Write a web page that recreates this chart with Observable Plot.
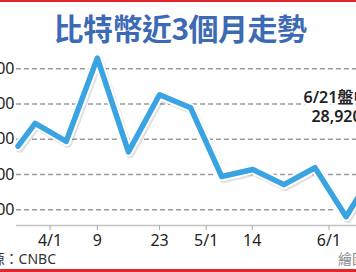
<!DOCTYPE html>
<html>
<head>
<meta charset="utf-8">
<script src="https://cdn.jsdelivr.net/npm/d3@7"></script>
<script src="https://cdn.jsdelivr.net/npm/@observablehq/plot@0.6"></script>
<style>
  html, body { margin: 0; padding: 0; background: #fff; }
  #wrap { position: relative; width: 356px; height: 272px; overflow: hidden; background: #fff;
          font-family: "Noto Sans", "Noto Sans CJK TC", sans-serif; }
  .bar { position: absolute; left: 0; width: 356px; background: #e3262c; }
  #title { position: absolute; left: 2px; width: 356px; top: 12px; text-align: center;
           font: bold 30px/30px "Noto Sans CJK TC", sans-serif; color: #3c6ab4; letter-spacing: -0.5px; }
  #chart { position: absolute; left: -50px; top: 30px; width: 474px; height: 225px; }
  #chart svg { max-width: none !important; }
  #source { position: absolute; right: 300px; top: 252px; font-size: 14px; line-height: 14px; color: #333; white-space: nowrap;
            font-family: "Noto Sans", "Noto Sans CJK TC", sans-serif; }
  #credit { position: absolute; left: 338px; top: 251px; font-size: 14px; line-height: 14px; color: #888; white-space: nowrap;
            font-family: "Noto Sans CJK TC", sans-serif; }
</style>
</head>
<body>
<div id="wrap">
  <div class="bar" style="top:0;height:2px"></div>
  <div id="title">比特幣近3個月走勢</div>
  <div id="chart"></div>
  <div id="source">資料來源：CNBC</div>
  <div id="credit">繪圖：編輯部</div>
  <div class="bar" style="top:269px;height:3px"></div>
</div>
<script>
// Weekly points (position index along the x axis) and Bitcoin price (USD)
const weekIndex = [0.45, 1, 2, 3, 4, 5, 6, 7, 8, 9, 10, 11, 13.2];
const price = [27800, 28450, 27940, 30300, 27640, 29260, 28890, 26940, 27140, 26710, 27190, 25800, 28920];
// X tick positions (in the same index units) and labels
const tickPos = [1.48, 3, 5, 6.5, 7.98, 10.45];
const tickLabels = ["4/1", "9", "23", "5/1", "14", "6/1"];
// Y gridline values
const yTicks = [26000, 27000, 28000, 29000, 30000];
// Annotation for the last point
const noteText = "6/21盤中\n28,920";

const data = weekIndex.map((x, i) => ({x, y: price[i]}));
const last = data[data.length - 1];
const labelOf = new Map(tickPos.map((p, i) => [p, tickLabels[i]]));

const chart = Plot.plot({
  width: 474,
  height: 225,
  marginLeft: 66,
  marginRight: 10,
  marginTop: 10,
  marginBottom: 30,
  style: {fontFamily: "'Noto Sans', 'Noto Sans CJK TC', sans-serif", background: "transparent", overflow: "visible", maxWidth: "none"},
  x: {type: "linear", domain: [0.4, 13.2]},
  y: {domain: [25550, 30800]},
  marks: [
    Plot.gridY(yTicks, {stroke: "#9a9a9a", strokeOpacity: 1, strokeWidth: 1.5, strokeDasharray: "5,3"}),
    Plot.ruleY([25550], {stroke: "#c4c4c4", strokeWidth: 1.5}),
    Plot.axisY(yTicks, {tickSize: 0, tickPadding: 2, fontSize: 16, fill: "#222", label: null,
      tickFormat: d3.format(",")}),
    Plot.axisX(tickPos, {tickSize: 5, tickPadding: 4, fontSize: 16, fill: "#222", stroke: "#aaa", label: null,
      tickFormat: d => labelOf.get(d)}),
    Plot.line(data, {x: "x", y: "y", stroke: "#000", strokeOpacity: 0.12, strokeWidth: 9, dx: 1.5, dy: 2,
      strokeLinejoin: "round"}),
    Plot.line(data, {x: "x", y: "y", stroke: "#fff", strokeWidth: 9.5, strokeLinejoin: "round"}),
    Plot.line(data, {x: "x", y: "y", stroke: "#3aa3e2", strokeWidth: 5.5, strokeLinejoin: "round"}),
    Plot.text([last], {x: "x", y: "y", text: () => noteText, dx: -78, fontSize: 16, fontWeight: 600,
      lineHeight: 1.2, fill: "#222", stroke: "#fff", strokeWidth: 5, textAnchor: "middle"})
  ]
});
document.getElementById("chart").appendChild(chart);
</script>
</body>
</html>
